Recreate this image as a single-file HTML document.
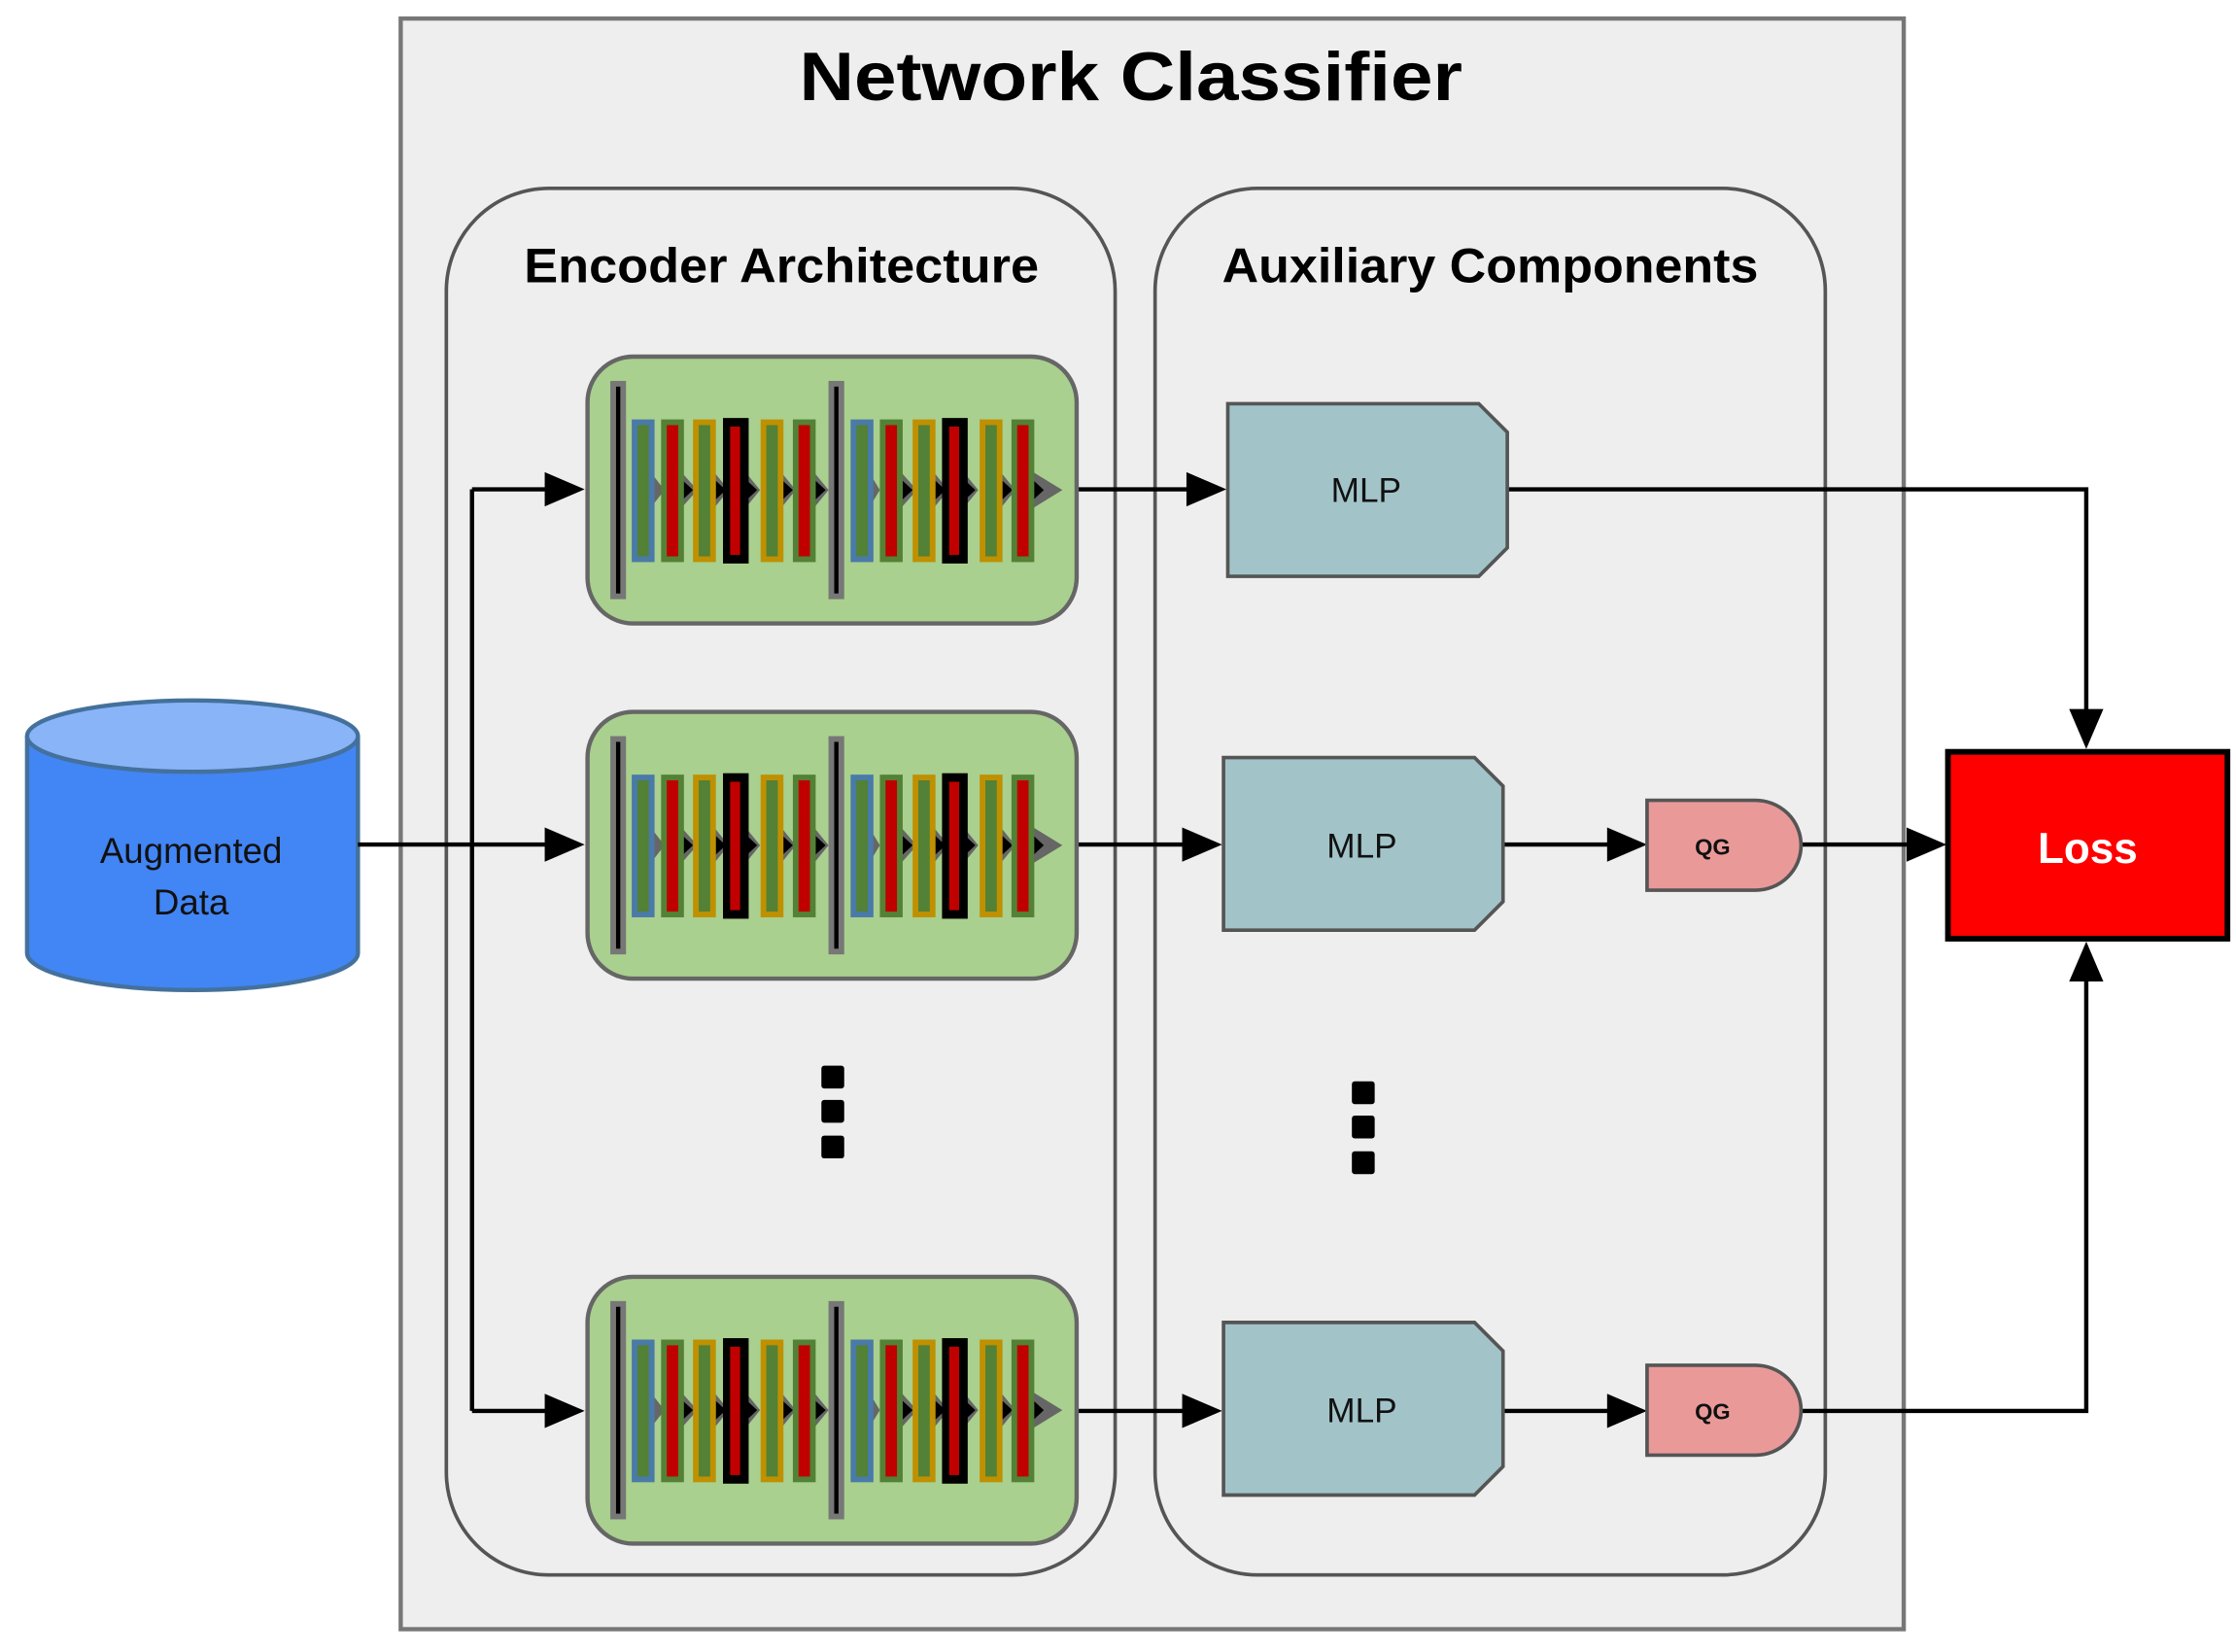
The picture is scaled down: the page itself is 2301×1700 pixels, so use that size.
<!DOCTYPE html>
<html><head><meta charset="utf-8"><style>html,body{margin:0;padding:0;background:#fff}svg{display:block}</style></head>
<body>
<svg width="2301" height="1700" viewBox="0 0 1568 1158" preserveAspectRatio="none" xmlns="http://www.w3.org/2000/svg" font-family="Liberation Sans, sans-serif">
<defs>
<marker id="ah" markerWidth="10" markerHeight="10" refX="9" refY="5" orient="auto" markerUnits="userSpaceOnUse" viewBox="0 0 10 10">
</marker>
<g id="enc">
<rect x="0" y="0" width="343" height="187" rx="32" fill="#a9d08e" stroke="#666" stroke-width="3"/>
<rect x="16" y="17" width="11" height="153" fill="#777"/><rect x="20" y="21" width="3" height="145" fill="#000"/>
<rect x="169" y="17" width="11" height="153" fill="#777"/><rect x="173" y="21" width="3" height="145" fill="#000"/>
<!-- triangles -->
<g fill="#666">
<polygon points="45,82 54,93.5 45,105"/><polygon points="65,80 77,93.5 65,107"/><polygon points="88,80 99,93.5 88,107"/><polygon points="110,80 121,93.5 110,107"/><polygon points="135,80 146,93.5 135,107"/><polygon points="158,80 169,93.5 158,107"/>
<polygon points="198,82 205,93.5 198,105"/><polygon points="219,80 231,93.5 219,107"/><polygon points="242,80 253,93.5 242,107"/><polygon points="263,80 274,93.5 263,107"/><polygon points="289,80 300,93.5 289,107"/><polygon points="311,80 333,93.5 311,107"/>
</g>
<g fill="#000">
<polygon points="67,87 74,93.5 67,100"/><polygon points="90,87 97,93.5 90,100"/><polygon points="112,87 119,93.5 112,100"/><polygon points="137,87 144,93.5 137,100"/><polygon points="160,87 167,93.5 160,100"/>
<polygon points="221,87 228,93.5 221,100"/><polygon points="244,87 251,93.5 244,100"/><polygon points="265,87 272,93.5 265,100"/><polygon points="291,87 298,93.5 291,100"/><polygon points="313,87 320,93.5 313,100"/>
</g>
<!-- bars -->
<rect x="31" y="44" width="16" height="100" fill="#4a7aa8"/><rect x="35" y="48" width="8" height="92" fill="#538135"/>
<rect x="51.6" y="44" width="16" height="100" fill="#538135"/><rect x="55.6" y="48" width="8" height="92" fill="#c00000"/>
<rect x="74" y="44" width="16" height="100" fill="#bf9000"/><rect x="78" y="48" width="8" height="92" fill="#538135"/>
<rect x="95" y="43" width="18" height="102" fill="#000"/><rect x="100" y="49" width="7" height="90" fill="#c00000"/>
<rect x="121.4" y="44" width="16" height="100" fill="#bf9000"/><rect x="125.4" y="48" width="8" height="92" fill="#538135"/>
<rect x="144" y="44" width="16" height="100" fill="#538135"/><rect x="148" y="48" width="8" height="92" fill="#c00000"/>
<rect x="184.5" y="44" width="16" height="100" fill="#4a7aa8"/><rect x="188.5" y="48" width="8" height="92" fill="#538135"/>
<rect x="205" y="44" width="16" height="100" fill="#538135"/><rect x="209" y="48" width="8" height="92" fill="#c00000"/>
<rect x="228" y="44" width="16" height="100" fill="#bf9000"/><rect x="232" y="48" width="8" height="92" fill="#538135"/>
<rect x="248.6" y="43" width="18" height="102" fill="#000"/><rect x="253.6" y="49" width="7" height="90" fill="#c00000"/>
<rect x="275" y="44" width="16" height="100" fill="#bf9000"/><rect x="279" y="48" width="8" height="92" fill="#538135"/>
<rect x="297.3" y="44" width="16" height="100" fill="#538135"/><rect x="301.3" y="48" width="8" height="92" fill="#c00000"/>
</g>
<polygon id="mlp" points="0,0 176,0 196,20 196,101 176,121 0,121" fill="#a2c4c9" stroke="#555" stroke-width="2.5"/>
<path id="qg" d="M0,0 H76 A32,31.5 0 0 1 76,63 H0 Z" fill="#ea9999" stroke="#555" stroke-width="2.5"/>
</defs>

<rect x="281" y="13" width="1054" height="1129" fill="#eeeeee" stroke="#777" stroke-width="3"/>
<text x="793" y="70" font-size="48" font-weight="bold" text-anchor="middle" textLength="465" lengthAdjust="spacingAndGlyphs">Network Classifier</text>
<rect x="313" y="132" width="469" height="972" rx="72" fill="none" stroke="#555" stroke-width="2.5"/>
<rect x="810" y="132" width="470" height="972" rx="72" fill="none" stroke="#555" stroke-width="2.5"/>
<text x="548" y="198" font-size="34" font-weight="bold" text-anchor="middle" textLength="361" lengthAdjust="spacingAndGlyphs">Encoder Architecture</text>
<text x="1045" y="198" font-size="34" font-weight="bold" text-anchor="middle" textLength="376" lengthAdjust="spacingAndGlyphs">Auxiliary Components</text>

<!-- cylinder -->
<path d="M19,516 V668 A116,26 0 0 0 251,668 V516" fill="#4285f4" stroke="#44719c" stroke-width="3"/>
<ellipse cx="135" cy="516" rx="116" ry="25" fill="#8ab4f8" stroke="#44719c" stroke-width="3"/>
<text x="134" y="605" font-size="25" text-anchor="middle" fill="#111">Augmented</text>
<text x="134" y="641" font-size="25" text-anchor="middle" fill="#111">Data</text>

<!-- connectors -->
<g stroke="#000" stroke-width="3" fill="none">
<path d="M251,592 H385"/>
<path d="M331,343 V989"/>
<path d="M331,343 H385"/><path d="M331,989 H385"/>
<path d="M755,343 H835"/><path d="M755,592 H832"/><path d="M755,989 H832"/>
<path d="M1056,343 H1463 V500"/>
<path d="M1053,592 H1130"/><path d="M1053,989 H1130"/>
<path d="M1263,592 H1340"/>
<path d="M1263,989 H1463 V685"/>
</g>
<g fill="#000">
<polygon points="382,580 410,592 382,604"/>
<polygon points="382,331 410,343 382,355"/>
<polygon points="382,977 410,989 382,1001"/>
<polygon points="832,331 860,343 832,355"/>
<polygon points="829,580 857,592 829,604"/>
<polygon points="829,977 857,989 829,1001"/>
<polygon points="1127,580 1155,592 1127,604"/>
<polygon points="1127,977 1155,989 1127,1001"/>
<polygon points="1337,580 1365,592 1337,604"/>
<polygon points="1451,497 1463,525 1475,497"/>
<polygon points="1451,688 1463,660 1475,688"/>
</g>

<use href="#enc" x="412" y="250"/>
<use href="#enc" x="412" y="499"/>
<use href="#enc" x="412" y="895"/>

<use href="#mlp" x="861" y="283"/>
<use href="#mlp" x="858" y="531"/>
<use href="#mlp" x="858" y="927"/>
<g font-size="24" text-anchor="middle" fill="#111">
<text x="958" y="352">MLP</text><text x="955" y="601">MLP</text><text x="955" y="997">MLP</text>
</g>
<use href="#qg" x="1155" y="561"/>
<use href="#qg" x="1155" y="957"/>
<g font-size="16" font-weight="bold" text-anchor="middle" fill="#111">
<text x="1201" y="599">QG</text><text x="1201" y="995">QG</text>
</g>

<rect x="1366" y="527" width="196" height="131" fill="#ff0000" stroke="#000" stroke-width="4"/>
<text x="1464" y="605" font-size="30" font-weight="bold" fill="#fff" text-anchor="middle">Loss</text>

<g fill="#000">
<rect x="576" y="747" width="16" height="16" rx="2"/><rect x="576" y="771" width="16" height="16" rx="2"/><rect x="576" y="796" width="16" height="16" rx="2"/>
<rect x="948" y="758" width="16" height="16" rx="2"/><rect x="948" y="782" width="16" height="16" rx="2"/><rect x="948" y="807" width="16" height="16" rx="2"/>
</g>
</svg>
</body></html>
